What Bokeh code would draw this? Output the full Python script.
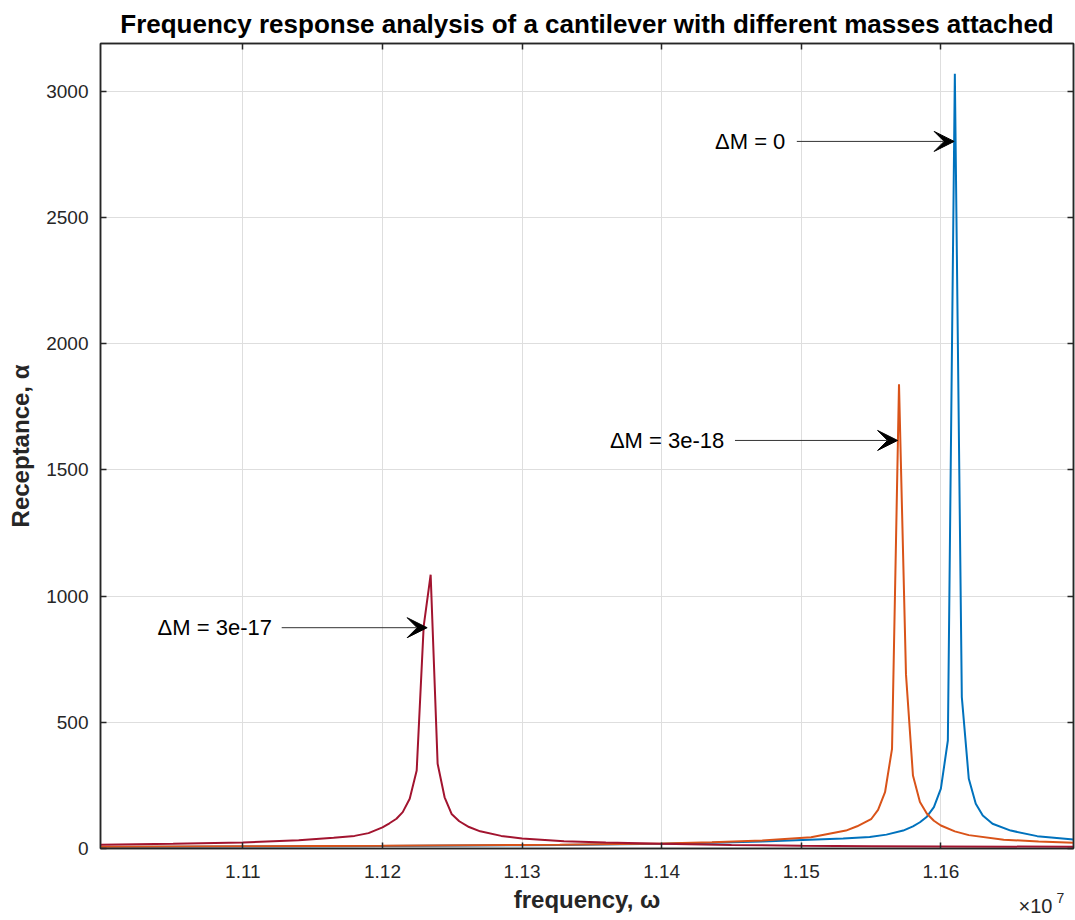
from bokeh.plotting import figure
from bokeh.models import Range1d, LinearAxis, FixedTicker, Arrow, VeeHead, Label, CustomJSTickFormatter
from bokeh.embed import file_html
from bokeh.resources import INLINE

# frequency (in units of 1e7) and receptance values
omega_dm0 = [1.0998, 1.110, 1.120, 1.130, 1.1327, 1.140, 1.1436, 1.1472, 1.1501, 1.153,
             1.1549, 1.1561, 1.1573, 1.1580, 1.1585, 1.1590, 1.1595, 1.1600, 1.1605, 1.1610,
             1.1615, 1.1620, 1.1625, 1.1630, 1.1637, 1.1650, 1.1669, 1.1695]
alpha_dm0 = [6, 8, 10, 13, 14, 19, 23, 28, 34, 40,
             46, 55, 71, 88, 104, 126, 164, 237, 428, 3070,
             600, 276, 177, 131, 98, 71, 49, 36]

omega_dm3e18 = [1.0998, 1.110, 1.120, 1.130, 1.1327, 1.140, 1.1436, 1.1472, 1.1507, 1.1532,
                1.1540, 1.1550, 1.1555, 1.1560, 1.1565, 1.1570, 1.1575, 1.1580, 1.1585, 1.1590,
                1.1595, 1.1600, 1.1610, 1.1620, 1.1645, 1.1670, 1.1695]
alpha_dm3e18 = [7, 9, 11, 14, 15, 20, 25, 32, 45, 71,
                88, 116, 153, 223, 395, 1840, 690, 289, 184, 138,
                110, 91, 68, 53, 35, 28, 23]

omega_dm3e17 = [1.0998, 1.1050, 1.1100, 1.1140, 1.1165, 1.1180, 1.1190, 1.1200, 1.1205, 1.1210,
                1.12145, 1.12195, 1.12245, 1.12295, 1.12345, 1.12395, 1.12445, 1.12495, 1.1255, 1.1262,
                1.1270, 1.1285, 1.1300, 1.1330, 1.1360, 1.1400, 1.1450, 1.1500, 1.1550, 1.1600, 1.1695]
alpha_dm3e17 = [15, 19, 24, 33, 43, 50, 61, 84, 100, 118,
                144, 197, 309, 880, 1085, 336, 203, 137, 108, 85,
                68, 50, 40, 29, 24, 19, 14, 11, 9, 8, 7]

x_ticks = [1.11, 1.12, 1.13, 1.14, 1.15, 1.16]
y_ticks = [0, 500, 1000, 1500, 2000, 2500, 3000]

ann_texts = ["\u0394M = 0", "\u0394M = 3e-18", "\u0394M = 3e-17"]
ann_text_x = [1.14382, 1.13629, 1.10389]
ann_y = [2802, 1617, 875]
ann_arrow_start = [1.14968, 1.14525, 1.11278]
ann_arrow_end = [1.16095, 1.15690, 1.12320]

FONT = "Liberation Sans"
DARK = "#262626"

p = figure(frame_width=973, frame_height=805, output_backend="svg", toolbar_location=None,
           x_range=Range1d(1.0998, 1.1695), y_range=Range1d(0, 3190),
           min_border_left=100, min_border_right=2, min_border_top=43, min_border_bottom=72,
           background_fill_color="white", border_fill_color="white")

p.title.text = "Frequency response analysis of a cantilever with different masses attached"
p.title.align = "center"
p.title.text_font = FONT
p.title.text_font_size = "26px"
p.title.text_font_style = "bold"
p.title.text_color = "black"
p.title.offset = 0

p.line(omega_dm0, alpha_dm0, line_color="#0072BD", line_width=2)
p.line(omega_dm3e18, alpha_dm3e18, line_color="#D95319", line_width=2)
p.line(omega_dm3e17, alpha_dm3e17, line_color="#A2142F", line_width=2)

for ax in (p.xaxis[0], p.yaxis[0]):
    ax.axis_line_color = DARK
    ax.axis_line_width = 1.5
    ax.major_tick_line_color = DARK
    ax.major_tick_line_width = 1.5
    ax.major_tick_in = 6
    ax.major_tick_out = 0
    ax.minor_tick_line_color = None
    ax.major_label_text_font = FONT
    ax.major_label_text_font_size = "19px"
    ax.major_label_text_color = DARK
    ax.axis_label_text_font = FONT
    ax.axis_label_text_font_size = "24px"
    ax.axis_label_text_font_style = "bold"
    ax.axis_label_text_color = DARK

p.xaxis[0].ticker = FixedTicker(ticks=x_ticks)
p.xaxis[0].major_label_overrides = {t: f"{t:.2f}" for t in x_ticks}
p.xaxis[0].major_label_standoff = 16
p.xaxis[0].axis_label = "frequency, \u03c9"
p.xaxis[0].axis_label_standoff = 5

p.yaxis[0].ticker = FixedTicker(ticks=y_ticks)
p.yaxis[0].major_label_standoff = 12
p.yaxis[0].axis_label = "Receptance, \u03b1"
p.yaxis[0].axis_label_standoff = 9

top_ax = LinearAxis(ticker=FixedTicker(ticks=x_ticks), formatter=CustomJSTickFormatter(code="return ''"))
right_ax = LinearAxis(ticker=FixedTicker(ticks=y_ticks), formatter=CustomJSTickFormatter(code="return ''"))
for ax in (top_ax, right_ax):
    ax.axis_line_color = DARK
    ax.axis_line_width = 1.5
    ax.major_tick_line_color = DARK
    ax.major_tick_line_width = 1.5
    ax.major_tick_in = 6
    ax.major_tick_out = 0
    ax.minor_tick_line_color = None
    ax.major_label_standoff = 0
p.add_layout(top_ax, "above")
p.add_layout(right_ax, "right")

p.xgrid.ticker = FixedTicker(ticks=x_ticks)
p.ygrid.ticker = FixedTicker(ticks=y_ticks)
p.grid.grid_line_color = "#dedede"
p.grid.grid_line_width = 1
p.outline_line_color = DARK
p.outline_line_width = 1.5

for t, tx, y, xs, xe in zip(ann_texts, ann_text_x, ann_y, ann_arrow_start, ann_arrow_end):
    p.add_layout(Label(x=tx, y=y, text=t, text_font=FONT, text_font_size="22px",
                       text_color="black", text_baseline="middle", text_align="left"))
    p.add_layout(Arrow(x_start=xs, y_start=y, x_end=xe, y_end=y, line_color="#333333", line_width=1,
                       end=VeeHead(size=20, fill_color="black", line_color="black")))

# "x10^7" multiplier placed in the bottom side panel so it is not clipped to the frame
p.add_layout(Label(x=918, y=32, x_units="screen", y_units="screen", text="\u00d710",
                   text_font=FONT, text_font_size="20px",
                   text_color=DARK, text_baseline="middle", text_align="left"), "below")
p.add_layout(Label(x=956, y=50, x_units="screen", y_units="screen", text="7",
                   text_font=FONT, text_font_size="14px",
                   text_color=DARK, text_baseline="middle", text_align="left"), "below")

open("out.html", "w").write(file_html(p, INLINE))
